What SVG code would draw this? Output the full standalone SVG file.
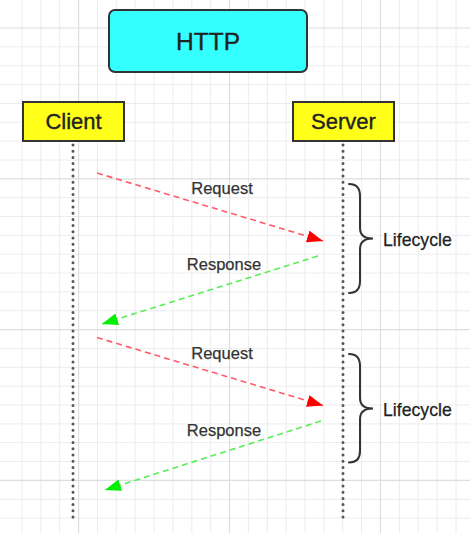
<svg xmlns="http://www.w3.org/2000/svg" width="470" height="533" viewBox="0 0 470 533">
<style>
.grid{stroke:#ececec;stroke-width:1;fill:none}
.major{stroke:#dedede;stroke-width:1.2;fill:none}
.box text{font-family:"Liberation Sans",Arial,sans-serif;fill:#222;text-anchor:middle;stroke:#222;stroke-width:0.35}
.actor rect{fill:#ffff1a;stroke:#333;stroke-width:2}
.life{stroke:#555;stroke-width:3;stroke-linecap:round;stroke-dasharray:0 6.2;fill:none}
.req{stroke:#ff5a6a;stroke-width:1.6;stroke-dasharray:6 4;fill:none}
.res{stroke:#55ee55;stroke-width:1.6;stroke-dasharray:6 4;fill:none}
.lbl{font-family:"Liberation Sans",Arial,sans-serif;font-size:16.5px;fill:#333;text-anchor:middle;stroke:#333;stroke-width:0.25}
.brace{stroke:#333;stroke-width:2;fill:none;stroke-linecap:round}
.lc{font-family:"Liberation Sans",Arial,sans-serif;font-size:17.7px;fill:#222;stroke:#222;stroke-width:0.25}
</style>
<defs>
<marker id="ah-red" markerUnits="userSpaceOnUse" markerWidth="18" markerHeight="14" refX="16" refY="6" orient="auto">
<path d="M0,0 L16,6 L0,12 Z" fill="#ff0000"/>
</marker>
<marker id="ah-green" markerUnits="userSpaceOnUse" markerWidth="18" markerHeight="14" refX="16" refY="6" orient="auto">
<path d="M0,0 L16,6 L0,12 Z" fill="#00ee00"/>
</marker>
</defs>
<rect x="0" y="0" width="470" height="533" fill="#ffffff"/>
<g id="grid">
<path class="grid" d="M22,0V533M40.8,0V533M59.7,0V533M97.5,0V533M116.3,0V533M135.2,0V533M154.1,0V533M172.9,0V533M191.8,0V533M210.7,0V533M248.4,0V533M267.3,0V533M286.2,0V533M305,0V533M323.9,0V533M342.7,0V533M361.6,0V533M399.4,0V533M418.2,0V533M437.1,0V533M456,0V533"/>
<path class="grid" d="M0,46.9H470M0,65.7H470M0,84.6H470M0,103.4H470M0,122.3H470M0,141.1H470M0,160H470M0,197.7H470M0,216.5H470M0,235.4H470M0,254.2H470M0,273.1H470M0,291.9H470M0,310.8H470M0,348.5H470M0,367.3H470M0,386.2H470M0,405H470M0,423.9H470M0,442.7H470M0,461.6H470M0,499.3H470M0,518.1H470"/>
<path class="major" d="M78.6,0V533M229.5,0V533M380.5,0V533M0,28H470M0,178.8H470M0,329.6H470M0,480.4H470"/>
</g>
<g id="http" class="box">
<rect x="109" y="10" width="198" height="62" rx="6" fill="#33ffff" stroke="#333" stroke-width="2"/>
<text x="208" y="50" font-size="24.5">HTTP</text>
</g>
<g id="client" class="box actor">
<rect x="23" y="102" width="101" height="39"/>
<text x="73.5" y="129" font-size="22">Client</text>
</g>
<g id="server" class="box actor">
<rect x="293" y="102" width="101" height="39"/>
<text x="343.5" y="129" font-size="22">Server</text>
</g>
<g id="lifelines">
<path class="life" d="M73,145V520"/>
<path class="life" d="M343,145V520"/>
</g>
<g id="connectors">
<path class="req" d="M97,173L323,241" marker-end="url(#ah-red)"/>
<path class="res" d="M318,256L102,324" marker-end="url(#ah-green)"/>
<path class="req" d="M97,337.5L323,405.5" marker-end="url(#ah-red)"/>
<path class="res" d="M321,421L105,490" marker-end="url(#ah-green)"/>
</g>
<g id="labels">
<text class="lbl" x="222" y="194">Request</text>
<text class="lbl" x="224" y="270">Response</text>
<text class="lbl" x="222" y="359">Request</text>
<text class="lbl" x="224" y="436">Response</text>
</g>
<g id="lifecycle1">
<path class="brace" d="M349,184Q360,184 360,196L360,228Q360,238.5 373,238.5Q360,238.5 360,249L360,281Q360,293 349,293"/>
<text class="lc" x="383" y="245.5">Lifecycle</text>
</g>
<g id="lifecycle2">
<path class="brace" d="M349,354Q360,354 360,366L360,398Q360,408.5 373,408.5Q360,408.5 360,419L360,451Q360,462.5 349,462.5"/>
<text class="lc" x="383" y="415.5">Lifecycle</text>
</g>
</svg>
